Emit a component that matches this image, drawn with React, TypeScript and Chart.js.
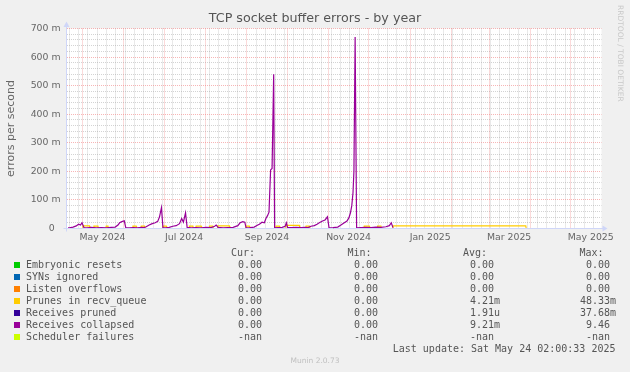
import React, { useEffect, useRef } from 'react';
import { Chart, registerables } from 'chart.js';

Chart.register(...registerables);

// ---- time frame (rrdtool yearly graph: 400 days ending at last update) ----
const START_MS = Date.UTC(2024, 3, 19, 2, 0, 33);
const SPAN_DAYS = 400;

// ---- axis tick labels ----
const xTickLabels = ['May 2024', 'Jul 2024', 'Sep 2024', 'Nov 2024', 'Jan 2025', 'Mar 2025', 'May 2025'];
const xTickMonths: [number, number][] = [[2024, 4], [2024, 6], [2024, 8], [2024, 10], [2025, 0], [2025, 2], [2025, 4]];
const yTickValues = [0, 0.1, 0.2, 0.3, 0.4, 0.5, 0.6, 0.7];
const yTickLabels = ['0  ', '100 m', '200 m', '300 m', '400 m', '500 m', '600 m', '700 m'];

// ---- series (x = days since start of graph, y = errors per second) ----
const collapsedX = [
  1.1, 2.3, 4.9, 7.3, 9.0, 10.5, 11.6, 13.1, 15.5, 18.5, 22.3, 26.0, 29.7, 33.5, 36.4,
  38.5, 39.7, 41.4, 43.2, 44.3, 46.9, 49.9, 52.9, 55.9, 58.1, 59.6, 61.8, 64.1, 66.3,
  68.2, 69.5, 71.0, 72.1, 74.5, 76.8, 79.5, 82.0, 84.5, 86.1, 87.4, 89.0, 90.2, 93.2,
  96.9, 100.7, 104.4, 108.1, 110.8, 111.9, 113.4, 117.1, 120.8, 124.6, 128.1, 129.8,
  131.8, 133.3, 134.3, 137.3, 140.3, 143.0, 144.2, 146.2, 147.9, 149.1, 150.3, 151.4,
  152.6, 153.7, 154.9, 155.6, 158.2, 161.2, 163.5, 164.4, 165.3, 167.9, 171.6, 175.4,
  178.3, 180.6, 182.8, 185.3, 187.3, 189.0, 191.4, 193.3, 195.1, 196.3, 199.3, 202.8,
  205.2, 207.7, 209.7, 211.2, 212.3, 213.3, 214.2, 214.9, 215.8, 216.9, 220.2, 223.9,
  227.6, 231.4, 235.1, 238.8, 241.4, 242.8, 244.1,
];
const collapsedY = [
  0.002, 0.002, 0.005, 0.009, 0.015, 0.012, 0.020, 0.003, 0.002, 0.004, 0.002, 0.003, 0.002, 0.004, 0.005,
  0.012, 0.020, 0.024, 0.027, 0.003, 0.002, 0.003, 0.002, 0.004, 0.003, 0.006, 0.012, 0.017, 0.020,
  0.025, 0.040, 0.073, 0.003, 0.002, 0.004, 0.008, 0.010, 0.017, 0.035, 0.022, 0.055, 0.004, 0.002,
  0.003, 0.002, 0.004, 0.003, 0.008, 0.012, 0.004, 0.002, 0.003, 0.004, 0.010, 0.020,
  0.024, 0.022, 0.002, 0.003, 0.005, 0.012, 0.015, 0.022, 0.020, 0.035, 0.045, 0.057,
  0.205, 0.210, 0.540, 0.002, 0.003, 0.004, 0.008, 0.020, 0.004, 0.003, 0.004, 0.003,
  0.004, 0.003, 0.008, 0.010, 0.015, 0.020, 0.026, 0.030, 0.041, 0.002, 0.003, 0.005,
  0.012, 0.020, 0.026, 0.038, 0.055, 0.080, 0.125, 0.200, 0.670, 0.002, 0.003, 0.004,
  0.003, 0.005, 0.004, 0.006, 0.010, 0.020, 0.003,
];

const prunesX = [
  0, 12.0, 12.3, 17.2, 17.5, 20.2, 20.5, 23.5, 23.8, 29.4, 29.7, 31.0, 31.3,
  49.4, 49.7, 52.1, 52.4, 55.6, 55.9, 58.3, 58.6, 71.8, 72.1, 74.6, 74.9,
  91.6, 91.9, 94.5, 94.8, 96.6, 96.9, 100.7, 101.0, 106.6, 106.9, 109.4, 109.7,
  112.8, 113.1, 121.8, 122.1, 134.0, 134.3, 136.7, 137.0, 156.4, 156.7, 159.2, 159.5,
  163.9, 164.2, 174.1, 174.4, 178.8, 179.1, 181.6, 181.9, 222.3, 222.6, 226.4, 226.7,
  232.3, 232.6, 235.1, 235.4, 243.8, 244.1, 343.4, 343.7, 344.0,
];
const prunesY = [
  0, 0, 0.009, 0.009, 0, 0, 0.008, 0.008, 0, 0, 0.008, 0.008, 0,
  0, 0.008, 0.008, 0, 0, 0.008, 0.008, 0, 0, 0.008, 0.008, 0,
  0, 0.008, 0.008, 0, 0, 0.008, 0.008, 0, 0, 0.008, 0.008, 0,
  0, 0.009, 0.009, 0, 0, 0.008, 0.008, 0, 0, 0.008, 0.008, 0,
  0, 0.011, 0.011, 0, 0, 0.008, 0.008, 0, 0, 0.008, 0.008, 0,
  0, 0.008, 0.008, 0, 0, 0.009, 0.009, 0, 0,
];

const zeroX = [0, 344];
const zeroY = [0, 0];

// ---- legend table ----
const legendNames = ['Embryonic resets', 'SYNs ignored', 'Listen overflows', 'Prunes in recv_queue', 'Receives pruned', 'Receives collapsed', 'Scheduler failures'];
const legendColors = ['#00CC00', '#0066B3', '#FF8000', '#FFCC00', '#330099', '#990099', '#CCFF00'];
const curValues = ['0.00', '0.00', '0.00', '0.00', '0.00', '0.00', '-nan'];
const minValues = ['0.00', '0.00', '0.00', '0.00', '0.00', '0.00', '-nan'];
const avgValues = ['0.00', '0.00', '0.00', '4.21m', '1.91u', '9.21m', '-nan'];
const maxValues = ['0.00', '0.00', '0.00', '48.33m', '37.68m', '9.46', '-nan'];
const lastUpdate = 'Last update: Sat May 24 02:00:33 2025';

const MINOR = 'rgba(150,150,150,0.42)';
const MAJOR = 'rgba(240,120,120,0.55)';
const AXIS = '#CFD6F8';
const FONT = '#666666';

function dayOf(y: number, m: number, d = 1) {
  return (Date.UTC(y, m, d) - START_MS) / 86400000;
}

function fmt(v: string) {
  const m = /^(.*?)([mu]?)$/.exec(v)!;
  return m[1].padStart(6, ' ') + m[2];
}

const bgPlugin = {
  id: 'rrdBackground',
  beforeDraw(chart: any) {
    const { ctx, chartArea: a, width, height } = chart;
    ctx.save();
    ctx.fillStyle = '#F0F0F0';
    ctx.fillRect(0, 0, width, height);
    ctx.fillStyle = '#FFFFFF';
    ctx.fillRect(a.left, a.top, a.right - a.left, a.bottom - a.top);
    ctx.restore();
  },
};

const axisPlugin = {
  id: 'rrdAxis',
  afterDatasetsDraw(chart: any) {
    const { ctx, chartArea: a } = chart;
    const y0 = chart.scales.y.getPixelForValue(0);
    const x0 = a.left;
    ctx.save();
    ctx.strokeStyle = AXIS;
    ctx.fillStyle = AXIS;
    ctx.lineWidth = 1;
    ctx.beginPath();
    ctx.moveTo(a.left - 3, y0);
    ctx.lineTo(a.right + 2, y0);
    ctx.moveTo(x0, a.bottom + 3);
    ctx.lineTo(x0, a.top - 2);
    ctx.stroke();
    ctx.beginPath();
    ctx.moveTo(a.right + 1, y0 - 3);
    ctx.lineTo(a.right + 6, y0);
    ctx.lineTo(a.right + 1, y0 + 3);
    ctx.closePath();
    ctx.fill();
    ctx.beginPath();
    ctx.moveTo(x0 - 3, a.top - 1.5);
    ctx.lineTo(x0, a.top - 7);
    ctx.lineTo(x0 + 3, a.top - 1.5);
    ctx.closePath();
    ctx.fill();
    ctx.restore();
  },
};

function series(label: string, color: string, xs: number[], ys: number[], order: number) {
  return {
    label,
    data: xs.map((x, i) => ({ x, y: ys[i] })),
    borderColor: color,
    backgroundColor: color,
    borderWidth: 1.2,
    pointRadius: 0,
    tension: 0,
    fill: false,
    order,
  };
}

function RrdChart() {
  const ref = useRef<HTMLCanvasElement | null>(null);
  useEffect(() => {
    if (!ref.current) return;
    const chart = new Chart(ref.current, {
      type: 'line',
      data: {
        datasets: [
          series(legendNames[5], legendColors[5], collapsedX, collapsedY, 0),
          series(legendNames[4], legendColors[4], zeroX, zeroY, 1),
          series(legendNames[3], legendColors[3], prunesX, prunesY, 2),
          series(legendNames[2], legendColors[2], zeroX, zeroY, 3),
          series(legendNames[1], legendColors[1], zeroX, zeroY, 4),
          series(legendNames[0], legendColors[0], zeroX, zeroY, 5),
        ] as any,
      },
      options: {
        animation: false,
        responsive: false,
        events: [],
        layout: { padding: 0 },
        plugins: {
          legend: { display: false },
          tooltip: { enabled: false },
          title: {
            display: true,
            text: 'TCP socket buffer errors - by year',
            color: '#555555',
            font: { family: 'DejaVu Sans', size: 12.7, weight: 'normal' },
            padding: { top: 11.4, bottom: 1.86 },
          },
        },
        scales: {
          x: {
            type: 'linear',
            min: 0,
            max: SPAN_DAYS,
            afterFit: (s: any) => { s.height = 143.5; },
            afterBuildTicks: (scale: any) => {
              const months: number[] = [];
              for (let i = 0; i < 14; i++) {
                const d = dayOf(2024, 4 + i, 1);
                if (d <= SPAN_DAYS) months.push(d);
              }
              const t: any[] = [];
              for (let d = dayOf(2024, 3, 21); d <= SPAN_DAYS; d += 7) {
                if (!months.some((m) => Math.abs(m - d) < 0.05)) t.push({ value: d, kind: 'week' });
              }
              months.forEach((d) => t.push({ value: d, kind: 'month' }));
              xTickMonths.forEach(([y, m], i) => t.push({ value: dayOf(y, m, 16), kind: 'label', text: xTickLabels[i] }));
              t.sort((a, b) => a.value - b.value);
              scale.ticks = t;
            },
            grid: {
              drawTicks: false,
              lineWidth: 1,
              color: (c: any) => (c.tick?.kind === 'month' ? MAJOR : c.tick?.kind === 'week' ? MINOR : 'rgba(0,0,0,0)'),
            },
            border: { display: false, dash: [1, 1] },
            ticks: {
              autoSkip: false,
              maxRotation: 0,
              minRotation: 0,
              padding: 3,
              color: FONT,
              font: { family: 'DejaVu Sans', size: 9.33 },
              callback: (_v: any, i: number, ticks: any[]) => ticks[i]?.text ?? '',
            },
          },
          y: {
            type: 'linear',
            min: 0,
            max: 0.7,
            afterFit: (s: any) => { s.width = 66.5; },
            afterBuildTicks: (scale: any) => {
              const t: any[] = [];
              for (let i = 0; i <= 35; i++) {
                const v = Math.round(i * 2) / 100;
                const k = yTickValues.findIndex((y) => Math.abs(y - v) < 1e-9);
                t.push({ value: v, kind: k >= 0 ? 'major' : 'minor', text: k >= 0 ? yTickLabels[k] : '' });
              }
              scale.ticks = t;
            },
            grid: {
              drawTicks: false,
              lineWidth: 1,
              color: (c: any) => (c.tick?.kind === 'major' ? MAJOR : MINOR),
            },
            border: { display: false, dash: [1, 1] },
            title: {
              display: true,
              text: 'errors per second',
              color: FONT,
              font: { family: 'DejaVu Sans', size: 11 },
              padding: { top: 4.6, bottom: 0 },
            },
            ticks: {
              autoSkip: false,
              padding: 6,
              color: FONT,
              font: { family: 'DejaVu Sans', size: 9.33 },
              callback: (_v: any, i: number, ticks: any[]) => ticks[i]?.text ?? '',
            },
          },
          yRight: {
            type: 'linear',
            position: 'right',
            display: true,
            afterFit: (s: any) => { s.width = 28.5; },
            grid: { display: false, drawTicks: false },
            border: { display: false },
            ticks: { display: false },
          },
        },
      } as any,
      plugins: [bgPlugin, axisPlugin],
    });
    return () => chart.destroy();
  }, []);
  return <canvas ref={ref} width={630} height={372} style={{ position: 'absolute', left: 0, top: 0, width: 630, height: 372 }} />;
}

const mono: React.CSSProperties = {
  position: 'absolute',
  fontFamily: '"DejaVu Sans Mono", monospace',
  fontSize: 10,
  lineHeight: '12px',
  color: '#555555',
  whiteSpace: 'pre',
  margin: 0,
};

const colStarts = [226, 342, 458, 574];
const headerStarts = [231, 347.5, 463, 579.5];
const headers = ['Cur:', 'Min:', 'Avg:', 'Max:'];

export default function App() {
  const rowY = (i: number) => 264.5 + i * 12;
  return (
    <div style={{ position: 'fixed', left: 0, top: 0, width: 630, height: 372, background: '#F0F0F0', overflow: 'hidden' }}>
      <RrdChart />
      <div
        style={{
          position: 'absolute',
          left: 616,
          top: 5,
          writingMode: 'vertical-rl',
          fontFamily: '"DejaVu Sans", sans-serif',
          fontSize: 7.5,
          lineHeight: '9px',
          color: '#C8C8C8',
          whiteSpace: 'pre',
        }}
      >
        RRDTOOL / TOBI OETIKER
      </div>
      {headers.map((h, i) => (
        <div key={h} style={{ ...mono, left: headerStarts[i], top: 252.5 - 6 }}>{h}</div>
      ))}
      {legendNames.map((name, i) => (
        <React.Fragment key={name}>
          <div style={{ position: 'absolute', left: 14, top: rowY(i) - 3, width: 6, height: 6, background: legendColors[i] }} />
          <div style={{ ...mono, left: 26, top: rowY(i) - 6 }}>{name}</div>
          {[curValues[i], minValues[i], avgValues[i], maxValues[i]].map((v, j) => (
            <div key={j} style={{ ...mono, left: colStarts[j], top: rowY(i) - 6 }}>{fmt(v)}</div>
          ))}
        </React.Fragment>
      ))}
      <div style={{ ...mono, right: 630 - 615.5, top: 348.5 - 6, textAlign: 'right' }}>{lastUpdate}</div>
      <div
        style={{
          position: 'absolute',
          left: 0,
          width: 630,
          top: 361 - 5,
          textAlign: 'center',
          fontFamily: '"DejaVu Sans", sans-serif',
          fontSize: 7.5,
          lineHeight: '10px',
          color: '#C0C0C0',
        }}
      >
        Munin 2.0.73
      </div>
    </div>
  );
}
